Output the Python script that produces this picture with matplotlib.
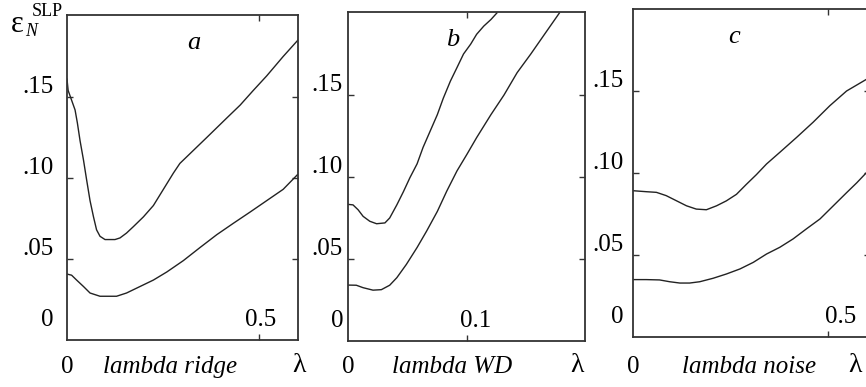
import matplotlib
matplotlib.use("Agg")
import matplotlib.pyplot as plt

plt.rcParams['font.family'] = ['Liberation Serif', 'DejaVu Serif']
plt.rcParams['mathtext.fontset'] = 'stix'

# panel a: lambda ridge
ridge_x_up = [0, 0.003, 0.012, 0.021, 0.027, 0.034, 0.043, 0.051, 0.06, 0.069, 0.077, 0.086,
              0.099, 0.125, 0.138, 0.155, 0.173, 0.199, 0.225, 0.251, 0.277, 0.294, 0.329,
              0.364, 0.416, 0.451, 0.485, 0.52, 0.563, 0.601]
ridge_y_up = [0.161, 0.154, 0.148, 0.142, 0.134, 0.123, 0.111, 0.099, 0.086, 0.076, 0.068, 0.064,
              0.062, 0.062, 0.063, 0.066, 0.070, 0.076, 0.083, 0.093, 0.103, 0.109, 0.117,
              0.125, 0.137, 0.145, 0.154, 0.163, 0.175, 0.185]
ridge_x_lo = [0, 0.012, 0.025, 0.043, 0.06, 0.086, 0.129, 0.155, 0.19, 0.225, 0.26, 0.303, 0.346,
              0.39, 0.433, 0.477, 0.52, 0.563, 0.6]
ridge_y_lo = [0.0407, 0.040, 0.037, 0.033, 0.029, 0.027, 0.027, 0.029, 0.033, 0.037, 0.042, 0.049,
              0.057, 0.065, 0.072, 0.079, 0.086, 0.093, 0.102]

# panel b: lambda WD
wd_x_up = [0, 0.0042, 0.0085, 0.0127, 0.0183, 0.024, 0.031, 0.035, 0.041, 0.0465, 0.052, 0.058,
           0.063, 0.069, 0.075, 0.080, 0.086, 0.0915, 0.097, 0.103, 0.108, 0.114, 0.12, 0.125]
wd_y_up = [0.0833, 0.083, 0.080, 0.076, 0.073, 0.0715, 0.072, 0.075, 0.083, 0.091, 0.0996, 0.108,
           0.118, 0.128, 0.138, 0.148, 0.1585, 0.1667, 0.175, 0.181, 0.187, 0.192, 0.196, 0.2]
wd_x_lo = [0, 0.007, 0.0127, 0.021, 0.028, 0.035, 0.041, 0.049, 0.058, 0.066, 0.075, 0.083,
           0.0915, 0.1, 0.108, 0.12, 0.131, 0.142, 0.1535, 0.165, 0.1775]
wd_y_lo = [0.0341, 0.034, 0.0325, 0.031, 0.0313, 0.034, 0.0386, 0.0467, 0.057, 0.067, 0.079,
           0.0915, 0.1037, 0.114, 0.124, 0.138, 0.150, 0.1636, 0.175, 0.187, 0.2]

# panel c: lambda noise
noise_x_up = [0, 0.034, 0.06, 0.085, 0.111, 0.137, 0.162, 0.188, 0.214, 0.239, 0.265, 0.29,
              0.316, 0.342, 0.376, 0.419, 0.4615, 0.504, 0.547, 0.597]
noise_y_up = [0.0892, 0.0886, 0.0882, 0.0862, 0.0831, 0.080, 0.078, 0.0776, 0.080, 0.083, 0.087,
              0.093, 0.099, 0.1055, 0.1126, 0.1217, 0.131, 0.141, 0.150, 0.157]
noise_x_lo = [0, 0.034, 0.068, 0.094, 0.12, 0.145, 0.171, 0.205, 0.239, 0.274, 0.308, 0.342,
              0.376, 0.41, 0.444, 0.479, 0.513, 0.547, 0.573, 0.597]
noise_y_lo = [0.035, 0.035, 0.0348, 0.0337, 0.0329, 0.0329, 0.0337, 0.0358, 0.0384, 0.0415,
              0.0455, 0.0506, 0.0547, 0.0598, 0.0659, 0.072, 0.080, 0.088, 0.094, 0.100]

ytick_vals = [0.05, 0.10, 0.15]
ytick_text = ['.05', '.10', '.15']
panel_letters = ['a', 'b', 'c']
x_names = ['lambda ridge', 'lambda WD', 'lambda noise']

W, H = 866, 387
fig = plt.figure(figsize=(W / 100, H / 100), dpi=100)


def px_axes(left, right, top, bottom):
    return fig.add_axes([left / W, (H - bottom) / H, (right - left) / W, (bottom - top) / H])


panels = [
    dict(box=(67, 298, 15, 340), xlim=0.6016, ylim=0.2006, up=(ridge_x_up, ridge_y_up),
         lo=(ridge_x_lo, ridge_y_lo), xt=0.5, xt_lab='0.5', xt_pos=0.505, lab_gap=13,
         letter_x=0.33),
    dict(box=(348, 585, 12, 341), xlim=0.199, ylim=0.2006, up=(wd_x_up, wd_y_up),
         lo=(wd_x_lo, wd_y_lo), xt=0.1, xt_lab='0.1', xt_pos=0.107, lab_gap=5,
         letter_x=0.088),
    dict(box=(633, 870, 9, 337), xlim=0.607, ylim=0.2, up=(noise_x_up, noise_y_up),
         lo=(noise_x_lo, noise_y_lo), xt=0.5, xt_lab='0.5', xt_pos=0.533, lab_gap=9,
         letter_x=0.258),
]

for i, p in enumerate(panels):
    left, right, top, bottom = p['box']
    ax = px_axes(left, right, top, bottom)
    ax.plot(*p['up'], color='#222222', lw=1.0)
    ax.plot(*p['lo'], color='#222222', lw=1.0)
    ax.set_xlim(0, p['xlim'])
    ax.set_ylim(0, p['ylim'])
    ax.set_xticks([p['xt']])
    ax.set_yticks(ytick_vals)
    ax.tick_params(direction='in', length=4, width=1, top=True, right=True,
                   labelleft=False, labelbottom=False, color='#333333')
    for s in ax.spines.values():
        s.set_color('#333333')
        s.set_linewidth(1.3)
    if i == 2:
        ax.spines['right'].set_visible(False)

    # y labels sit a little above their ticks, as in the scan
    pix = p['ylim'] / (bottom - top)
    xoff = -p['lab_gap'] * p['xlim'] / (right - left)
    for v, t in zip(ytick_vals, ytick_text):
        ax.text(xoff, v + 10 * pix, t, ha='right', va='center', fontsize=18, clip_on=False)
    ax.text(xoff, 20 * pix, '0', ha='right', va='center', fontsize=18, clip_on=False)
    ax.text(p['xt_pos'], 20 * pix, p['xt_lab'], ha='center', va='center', fontsize=18)

    ax.text(p['letter_x'], p['ylim'] - 28 * pix, panel_letters[i], ha='center', va='center',
            fontsize=19, style='italic')

    # bottom row: 0 under each axis origin
    fig.text(left / W, (H - 367) / H, '0', ha='center', va='center', fontsize=18)

fig.text(170 / W, (H - 367) / H, x_names[0], ha='center', va='center', fontsize=18, style='italic')
fig.text(452 / W, (H - 367) / H, x_names[1], ha='center', va='center', fontsize=18, style='italic')
fig.text(749 / W, (H - 367) / H, x_names[2], ha='center', va='center', fontsize=18, style='italic')
for lx in [299, 577, 855]:
    fig.text(lx / W, (H - 366) / H, 'λ', ha='center', va='center', fontsize=20)

# y label: upright epsilon with italic N below and SLP above
fig.text(17 / W, (H - 24) / H, 'ε', ha='center', va='center', fontsize=22)
fig.text(31 / W, (H - 31) / H, 'N', ha='center', va='center', fontsize=13, style='italic')
fig.text(47 / W, (H - 11) / H, 'SLP', ha='center', va='center', fontsize=13)

fig.savefig('out.png', dpi=100, facecolor='white')
